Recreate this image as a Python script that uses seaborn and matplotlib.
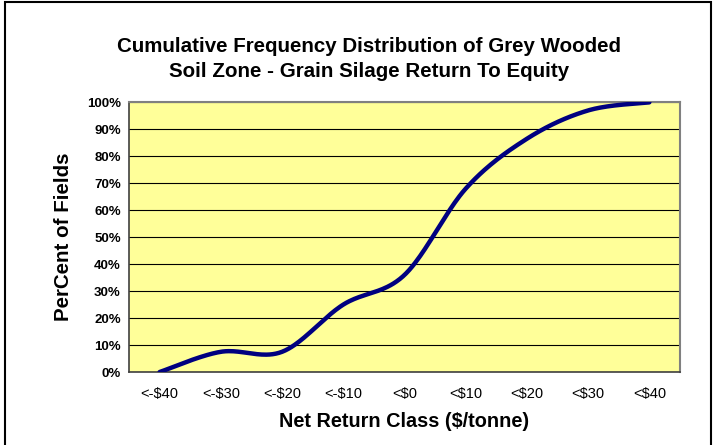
import numpy as np
import pandas as pd
import matplotlib
matplotlib.use("Agg")
import matplotlib.pyplot as plt
from matplotlib.patches import Rectangle
import seaborn as sns

# values
classes = ["<-$40", "<-$30", "<-$20", "<-$10", "<$0", "<$10", "<$20", "<$30", "<$40"]
pct_fields = [0, 7.5, 7.5, 25, 36, 68, 86.5, 97, 100]
y_ticks = [0, 10, 20, 30, 40, 50, 60, 70, 80, 90, 100]


def smooth_line(x, y, n=40):
    """Excel style smoothed line (Catmull-Rom Bezier between the points)."""
    x = np.asarray(x, float)
    y = np.asarray(y, float)
    px = np.concatenate([[x[0]], x, [x[-1]]])
    py = np.concatenate([[y[0]], y, [y[-1]]])
    xs, ys = [], []
    t = np.linspace(0, 1, n)
    for i in range(1, len(px) - 2):
        p0 = np.array([px[i], py[i]])
        p3 = np.array([px[i + 1], py[i + 1]])
        p1 = p0 + (np.array([px[i + 1], py[i + 1]]) - np.array([px[i - 1], py[i - 1]])) / 6
        p2 = p3 - (np.array([px[i + 2], py[i + 2]]) - np.array([px[i], py[i]])) / 6
        b = ((1 - t) ** 3)[:, None] * p0 + (3 * (1 - t) ** 2 * t)[:, None] * p1 \
            + (3 * (1 - t) * t ** 2)[:, None] * p2 + (t ** 3)[:, None] * p3
        xs.extend(b[:, 0])
        ys.extend(b[:, 1])
    return np.array(xs), np.array(ys)


sns.set_style("white")
plt.rcParams["font.family"] = ["Liberation Sans", "DejaVu Sans"]
plt.rcParams["text.color"] = "black"
plt.rcParams["axes.labelcolor"] = "black"
plt.rcParams["xtick.color"] = "black"
plt.rcParams["ytick.color"] = "black"

fig = plt.figure(figsize=(7.18, 4.45), dpi=100)
ax = fig.add_axes([0.1797, 0.164, 0.9470 - 0.1797, 0.770 - 0.164])

xs, ys = smooth_line(range(len(classes)), pct_fields)
df = pd.DataFrame({"x": xs, "y": ys})
sns.lineplot(data=df, x="x", y="y", ax=ax, color="#000080", lw=3.2,
             sort=False, estimator=None, solid_capstyle="round", zorder=3)

ax.set_facecolor("#FFFF99")
ax.set_xlim(-0.5, len(classes) - 0.5)
ax.set_ylim(0, 100)
ax.set_yticks(y_ticks)
ax.set_yticklabels([f"{v}%" for v in y_ticks], fontsize=9.5, fontweight="bold")
ax.set_xticks(range(len(classes)))
ax.set_xticklabels(classes, fontsize=10.5)
ax.set_xticks(np.arange(-0.5, len(classes)), minor=True)
ax.tick_params(axis="x", which="major", length=0, pad=11)
ax.tick_params(axis="x", which="minor", length=4, width=0.8, color="black", direction="out")
ax.tick_params(axis="y", length=4, width=0.8, color="black", direction="out", pad=2)
ax.grid(axis="y", color="black", lw=0.8)
ax.set_axisbelow(True)

for side in ["top", "right"]:
    ax.spines[side].set_color("#808080")
    ax.spines[side].set_linewidth(1.5)
for side in ["left", "bottom"]:
    ax.spines[side].set_color("#404040")
    ax.spines[side].set_linewidth(1.2)

ax.set_xlabel("Net Return Class ($/tonne)", fontsize=14.3, fontweight="bold", labelpad=8)
ax.set_ylabel("PerCent of Fields", fontsize=14.8, fontweight="bold", labelpad=10)

fig.text(0.5135, 0.868, "Cumulative Frequency Distribution of Grey Wooded\nSoil Zone - Grain Silage Return To Equity",
         ha="center", va="center", fontsize=14.8, fontweight="bold", linespacing=1.38)

# outer chart border
fig.patches.append(Rectangle((5 / 718, -0.05), 706 / 718, 1.05 - 2 / 445, transform=fig.transFigure,
                             fill=False, edgecolor="black", lw=1.5))

fig.savefig("out.png", dpi=100)
